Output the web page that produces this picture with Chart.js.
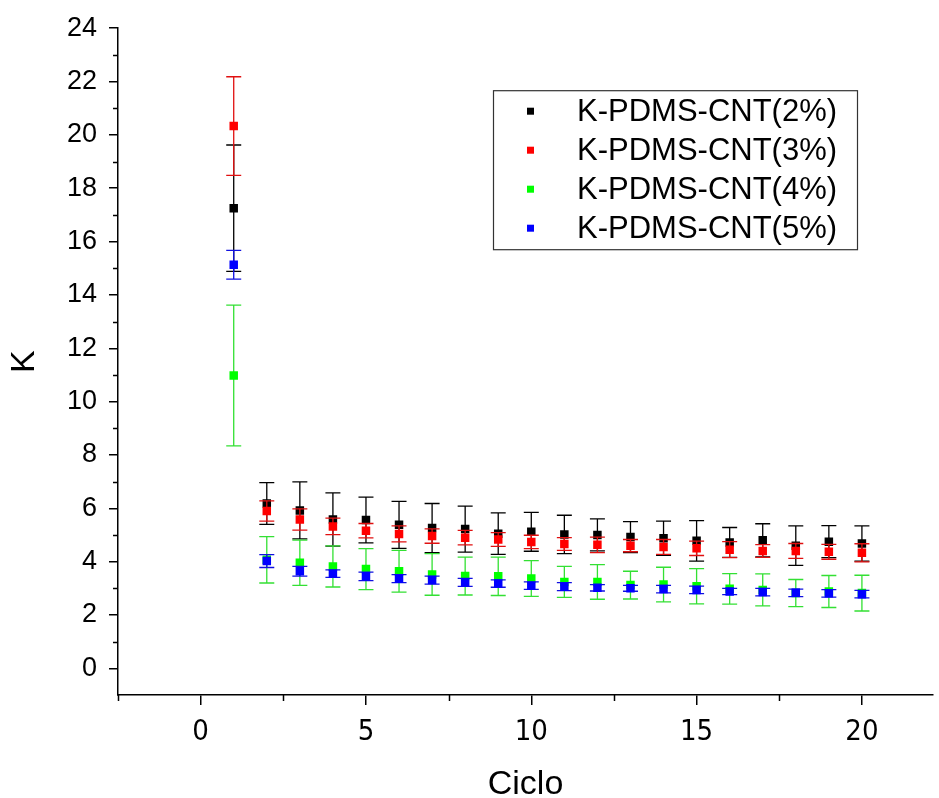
<!DOCTYPE html>
<html>
<head>
<meta charset="utf-8">
<script src="https://cdn.jsdelivr.net/npm/chart.js@4.4.1/dist/chart.umd.min.js"></script>
<style>
html, body { margin: 0; padding: 0; background: #fff; overflow: hidden; }
#wrap { position: relative; width: 939px; height: 798px; }
</style>
</head>
<body>
<div id="wrap"><canvas id="chart" width="939" height="798"></canvas></div>
<script>
// ciclos 1..20
const ciclos = [1, 2, 3, 4, 5, 6, 7, 8, 9, 10, 11, 12, 13, 14, 15, 16, 17, 18, 19, 20];

const series = ['K-PDMS-CNT(2%)', 'K-PDMS-CNT(3%)', 'K-PDMS-CNT(4%)', 'K-PDMS-CNT(5%)'];
const colores = ['#000000', '#ff0000', '#00ff00', '#0000ff'];
const coloresError = ['#000000', '#e01010', '#33e033', '#1010e0'];

const k2 = [17.25, 6.18, 5.92, 5.58, 5.56, 5.38, 5.26, 5.22, 5.05, 5.12, 5.02, 5.00, 4.92, 4.88, 4.78, 4.72, 4.80, 4.60, 4.75, 4.68];
const e2 = [2.37, 0.78, 1.07, 1.00, 0.86, 0.88, 0.92, 0.86, 0.78, 0.73, 0.72, 0.60, 0.58, 0.64, 0.76, 0.56, 0.62, 0.74, 0.60, 0.66];

const k3 = [20.33, 5.90, 5.58, 5.32, 5.16, 5.04, 4.96, 4.90, 4.83, 4.74, 4.66, 4.63, 4.60, 4.55, 4.50, 4.45, 4.40, 4.40, 4.37, 4.33];
const e3 = [1.85, 0.38, 0.40, 0.31, 0.27, 0.30, 0.27, 0.27, 0.26, 0.25, 0.24, 0.29, 0.23, 0.28, 0.27, 0.30, 0.24, 0.28, 0.28, 0.34];

const k4 = [10.98, 4.07, 3.96, 3.82, 3.72, 3.64, 3.52, 3.46, 3.45, 3.37, 3.24, 3.24, 3.12, 3.14, 3.08, 2.98, 2.94, 2.82, 2.88, 2.82];
const e4 = [2.64, 0.87, 0.85, 0.77, 0.77, 0.78, 0.78, 0.71, 0.72, 0.67, 0.58, 0.65, 0.52, 0.65, 0.66, 0.57, 0.60, 0.51, 0.60, 0.67];

const k5 = [15.13, 4.02, 3.64, 3.55, 3.45, 3.36, 3.31, 3.22, 3.18, 3.10, 3.06, 3.02, 3.00, 2.97, 2.94, 2.88, 2.86, 2.83, 2.81, 2.78];
const e5 = [0.54, 0.24, 0.18, 0.14, 0.16, 0.15, 0.15, 0.15, 0.14, 0.14, 0.15, 0.12, 0.11, 0.14, 0.14, 0.12, 0.14, 0.14, 0.14, 0.14];

const valores = [k2, k3, k4, k5];
const errores = [e2, e3, e4, e5];

// ticks
const xTicks = [0, 5, 10, 15, 20];
const xMinor = [-2.5, 2.5, 7.5, 12.5, 17.5];
const yTicks = [0, 2, 4, 6, 8, 10, 12, 14, 16, 18, 20, 22, 24];
const yMinor = [1, 3, 5, 7, 9, 11, 13, 15, 17, 19, 21, 23];

const errorBars = {
    id: 'errorBars',
    beforeDatasetDraw(chart, args) {
        const i = args.index;
        const {ctx, scales: {x, y}} = chart;
        ctx.save();
        ctx.strokeStyle = coloresError[i];
        ctx.lineWidth = 1.3;
        valores[i].forEach((v, j) => {
            const px = x.getPixelForValue(ciclos[j]);
            const top = y.getPixelForValue(v + errores[i][j]);
            const bot = y.getPixelForValue(v - errores[i][j]);
            ctx.beginPath();
            ctx.moveTo(px, top);
            ctx.lineTo(px, bot);
            ctx.moveTo(px - 7.5, top);
            ctx.lineTo(px + 7.5, top);
            ctx.moveTo(px - 7.5, bot);
            ctx.lineTo(px + 7.5, bot);
            ctx.stroke();
        });
        ctx.restore();
    }
};

const minorTicks = {
    id: 'minorTicks',
    afterDraw(chart) {
        const {ctx, chartArea, scales: {x, y}} = chart;
        ctx.save();
        ctx.strokeStyle = '#000';
        ctx.lineWidth = 1.5;
        ctx.beginPath();
        yMinor.forEach(v => {
            const py = Math.round(y.getPixelForValue(v)) + 0.5;
            ctx.moveTo(chartArea.left - 5, py);
            ctx.lineTo(chartArea.left, py);
        });
        xMinor.forEach(v => {
            const px = Math.round(x.getPixelForValue(v)) + 0.5;
            ctx.moveTo(px, chartArea.bottom);
            ctx.lineTo(px, chartArea.bottom + 6);
        });
        ctx.stroke();
        ctx.restore();
    }
};

const legendBox = {
    id: 'legendBox',
    afterDraw(chart) {
        const {ctx, chartArea} = chart;
        const left = chartArea.left + 375;
        const top = chartArea.top + 62;
        ctx.save();
        ctx.strokeStyle = '#333';
        ctx.lineWidth = 1.2;
        ctx.strokeRect(left + 0.5, top + 0.5, 364, 159);
        ctx.font = '31px "Liberation Sans", Arial, sans-serif';
        ctx.textBaseline = 'middle';
        series.forEach((name, i) => {
            const cy = top + 21 + i * 39;
            ctx.fillStyle = colores[i];
            ctx.fillRect(left + 34, cy - 3.5, 7, 7);
            ctx.fillStyle = '#000';
            ctx.fillText(name, left + 84, cy + 1);
        });
        ctx.restore();
    }
};

new Chart(document.getElementById('chart'), {
    type: 'scatter',
    data: {
        datasets: series.map((name, i) => ({
            label: name,
            data: valores[i].map((v, j) => ({x: ciclos[j], y: v})),
            backgroundColor: colores[i],
            borderColor: colores[i],
            borderWidth: 0,
            pointStyle: 'rect',
            pointRadius: 6,
            showLine: false,
            order: 3 - i
        }))
    },
    options: {
        responsive: false,
        animation: false,
        events: [],
        layout: {
            padding: {top: 26, right: 1, left: 0, bottom: 0}
        },
        plugins: {
            legend: {display: false},
            tooltip: {enabled: false}
        },
        scales: {
            x: {
                type: 'linear',
                min: -2.5,
                max: 22.15,
                afterBuildTicks: scale => {
                    scale.ticks = xTicks.map(v => ({value: v}));
                },
                afterFit: scale => {
                    scale.height = 103;
                },
                ticks: {
                    color: '#000',
                    padding: 10,
                    maxRotation: 0,
                    font: {family: '"Liberation Sans Narrow", "Arial Narrow", "DejaVu Sans Condensed", sans-serif', size: 29}
                },
                grid: {
                    drawOnChartArea: false,
                    color: '#000',
                    lineWidth: 1.5,
                    tickLength: 10
                },
                border: {color: '#000', width: 1.5},
                title: {
                    display: true,
                    text: 'Ciclo',
                    color: '#000',
                    padding: {top: 0, bottom: -4},
                    font: {family: '"Liberation Sans", Arial, sans-serif', size: 34, lineHeight: 1}
                }
            },
            y: {
                type: 'linear',
                min: -1,
                max: 24,
                afterBuildTicks: scale => {
                    scale.ticks = yTicks.map(v => ({value: v}));
                },
                afterFit: scale => {
                    scale.width = 118;
                },
                ticks: {
                    color: '#000',
                    padding: 12,
                    font: {family: '"Liberation Sans", Arial, sans-serif', size: 27}
                },
                grid: {
                    drawOnChartArea: false,
                    color: '#000',
                    lineWidth: 1.5,
                    tickLength: 9
                },
                border: {color: '#000', width: 1.5},
                title: {
                    display: true,
                    text: 'K',
                    color: '#000',
                    padding: {top: 8, bottom: 0},
                    font: {family: '"Liberation Sans", Arial, sans-serif', size: 34, lineHeight: 1}
                }
            }
        }
    },
    plugins: [errorBars, minorTicks, legendBox]
});
</script>
</body>
</html>
